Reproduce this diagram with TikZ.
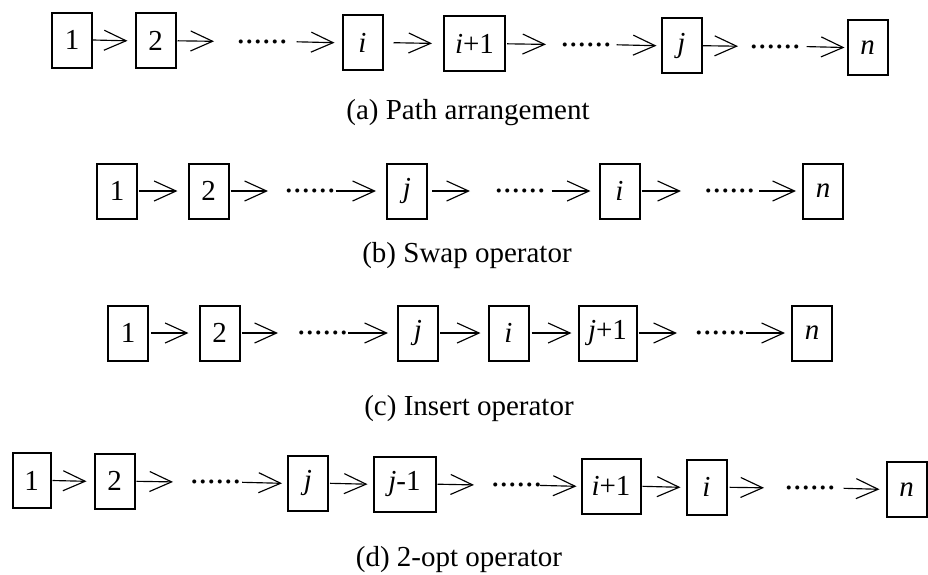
\documentclass[tikz,border=0pt]{standalone}
\usepackage{fontspec}
\setmainfont{Liberation Serif}
\usetikzlibrary{arrows.meta}
\begin{document}
\begin{tikzpicture}[x=1pt,y=-1pt,
  cell/.style={draw, line width=2pt, minimum width=40pt, minimum height=55pt,
    inner sep=0pt, font=\fontsize{29}{31}\selectfont},
  cellwide/.style={cell, minimum width=61pt},
  etc/.style={inner sep=0pt, font=\fontsize{34}{36}\selectfont},
  caption/.style={anchor=base, inner sep=0pt, font=\fontsize{29}{32}\selectfont},
  conn/.style={line width=1.15pt, -{Straight Barb[length=22pt,width=20pt,line width=1.15pt]}}]

\useasboundingbox (0,0) rectangle (928,574);

% (a) path arrangement
\node[cell] (a1) at (72,40.0) {1};
\node[cell] (a2) at (155.5,40.8) {2};
\coordinate (a2f) at (214,41.3);
\node[etc] (ad1) at (262,41.8) {......};
\node[cell] (ai) at (362.5,42.7) {\textit{i}};
\coordinate (aif) at (432,43.4);
\node[cellwide] (aip) at (474.5,43.8) {\textit{i}+1};
\coordinate (aipf) at (546,44.4);
\node[etc] (ad2) at (586,44.8) {......};
\node[cell] (aj) at (681.5,45.7) {\textit{j}};
\coordinate (ajf) at (738,46.2);
\node[etc] (ad3) at (775,46.6) {......};
\node[cell] (an) at (867.5,47.5) {\textit{n}};

\draw[conn] (a1.east) -- ([xshift=-7pt]a2.west);
\draw[conn] ([xshift=1pt]a2.east) -- (a2f);
\draw[conn] ([xshift=9pt]ad1.east) -- ([xshift=-7pt]ai.west);
\draw[conn] ([xshift=10pt]ai.east) -- (aif);
\draw[conn] ([xshift=1pt]aip.east) -- (aipf);
\draw[conn] ([xshift=5pt]ad2.east) -- ([xshift=-4pt]aj.west);
\draw[conn] (aj.east) -- (ajf);
\draw[conn] ([xshift=6pt]ad3.east) -- ([xshift=-2pt]an.west);

\node[caption] (capa) at (468,119) {(a) Path arrangement};

% (b) swap operator
\node[cell] (b1) at (117,191) {1};
\node[cell] (b2) at (208.5,191) {2};
\coordinate (b2f) at (268,191);
\node[etc] (bd1) at (310,191) {......};
\node[cell] (bj) at (407,191) {\textit{j}};
\coordinate (bjf) at (470,191);
\node[etc] (bd2) at (520,191) {......};
\node[cell] (bi) at (619.5,191) {\textit{i}};
\coordinate (bif) at (681,191);
\node[etc] (bd3) at (729.5,191) {......};
\node[cell] (bn) at (823,191) {\textit{n}};

\draw[conn] ([xshift=1pt]b1.east) -- ([xshift=-10pt]b2.west);
\draw[conn] ([xshift=1pt]b2.east) -- (b2f);
\draw[conn] (bd1.east) -- ([xshift=-10pt]bj.west);
\draw[conn] ([xshift=4pt]bj.east) -- (bjf);
\draw[conn] ([xshift=6pt]bd2.east) -- ([xshift=-8pt]bi.west);
\draw[conn] ([xshift=1pt]bi.east) -- (bif);
\draw[conn] ([xshift=4pt]bd3.east) -- ([xshift=-6pt]bn.west);

\node[caption] (capb) at (467,262) {(b) Swap operator};

% (c) insert operator
\node[cell] (c1) at (128,333) {1};
\node[cell] (c2) at (219.5,333) {2};
\coordinate (c2f) at (278,333);
\node[etc] (cd1) at (322.5,333) {......};
\node[cell] (cj) at (418,333) {\textit{j}};
\node[cell] (ci) at (508.5,333) {\textit{i}};
\node[cell, minimum width=58pt] (cjp) at (607.5,333) {\textit{j}+1};
\coordinate (cjpf) at (677,333);
\node[etc] (cd2) at (720,333) {......};
\node[cell] (cn) at (812,333) {\textit{n}};

\draw[conn] ([xshift=2pt]c1.east) -- ([xshift=-10pt]c2.west);
\draw[conn] ([xshift=1pt]c2.east) -- (c2f);
\draw[conn] (cd1.east) -- ([xshift=-9pt]cj.west);
\draw[conn] ([xshift=1pt]cj.east) -- ([xshift=-7pt]ci.west);
\draw[conn] ([xshift=2pt]ci.east) -- ([xshift=-6pt]cjp.west);
\draw[conn] ([xshift=1pt]cjp.east) -- (cjpf);
\draw[conn] (cd2.east) -- ([xshift=-6pt]cn.west);

\node[caption] (capc) at (469,415) {(c) Insert operator};

% (d) 2-opt operator
\node[cell, minimum width=38pt] (d1) at (31.5,480.5) {1};
\node[cell] (d2) at (114.5,481.3) {2};
\coordinate (d2f) at (173,481.9);
\node[etc] (dd1) at (215.5,482.3) {......};
\node[cell] (dj) at (308,483.3) {\textit{j}};
\node[cell, minimum width=62pt] (djm) at (404.5,484.2) {\textit{j}-1};
\coordinate (djmf) at (474,484.9);
\node[etc] (dd2) at (516.5,485.4) {......};
\node[cell, minimum width=59pt] (dip) at (611,486.3) {\textit{i}+1};
\node[cell] (di) at (706.5,487.3) {\textit{i}};
\coordinate (dif) at (764,487.8);
\node[etc] (dd3) at (810,488.3) {......};
\node[cell] (dn) at (906.5,489.3) {\textit{n}};

\draw[conn] ([xshift=1pt]d1.east) -- ([xshift=-7pt]d2.west);
\draw[conn] ([xshift=1pt]d2.east) -- (d2f);
\draw[conn] ([xshift=1pt]dd1.east) -- ([xshift=-5pt]dj.west);
\draw[conn] ([xshift=1pt]dj.east) -- ([xshift=-5pt]djm.west);
\draw[conn] ([xshift=1pt]djm.east) -- (djmf);
\draw[conn] ([xshift=-2pt]dd2.east) -- ([xshift=-4pt]dip.west);
\draw[conn] ([xshift=1pt]dip.east) -- ([xshift=-5pt]di.west);
\draw[conn] ([xshift=2pt]di.east) -- (dif);
\draw[conn] ([xshift=8pt]dd3.east) -- ([xshift=-6pt]dn.west);

\node[caption] (capd) at (459,566) {(d) 2-opt operator};
\end{tikzpicture}
\end{document}
